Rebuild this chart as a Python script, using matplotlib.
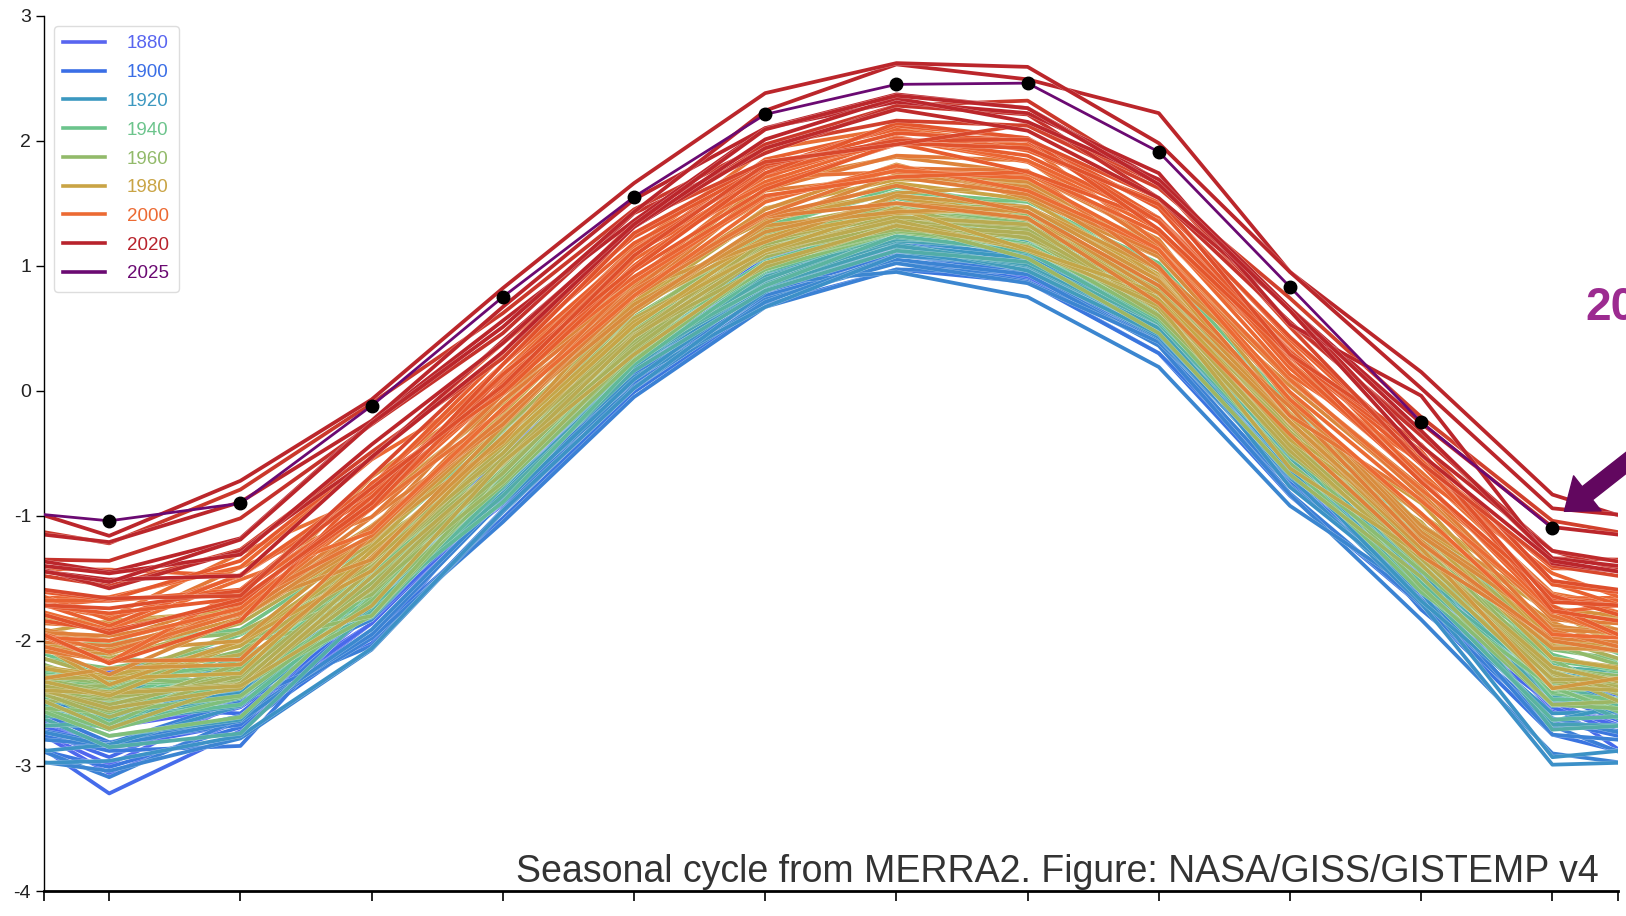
import numpy as np
import matplotlib
matplotlib.use("Agg")
import matplotlib.pyplot as plt
import matplotlib.patheffects as pe
from matplotlib.colors import LinearSegmentedColormap
from matplotlib.lines import Line2D
from matplotlib.transforms import offset_copy

plt.rcParams['font.family'] = ['Liberation Sans', 'DejaVu Sans']
plt.rcParams['axes.unicode_minus'] = False

months = list(range(1, 13))

# seasonal cycle (MERRA2)
clim = [-2.40, -2.16, -1.46, -0.49, 0.49, 1.16, 1.42, 1.30, 0.75, -0.37, -1.27, -2.20]

# monthly anomalies, one row per year (Jan..Dec)
anom_1880s = [
    [-0.20, -0.25, -0.09, -0.16, -0.10, -0.21, -0.18, -0.10, -0.15, -0.23, -0.22, -0.18],
    [-0.20, -0.14, 0.03, 0.05, 0.06, -0.19, 0.00, -0.04, -0.16, -0.22, -0.18, -0.07],
    [0.16, 0.14, 0.04, -0.16, -0.14, -0.22, -0.16, -0.08, -0.15, -0.23, -0.17, -0.36],
    [-0.29, -0.37, -0.12, -0.18, -0.18, -0.07, -0.07, -0.14, -0.22, -0.11, -0.24, -0.11],
    [-0.13, -0.08, -0.37, -0.40, -0.34, -0.35, -0.31, -0.28, -0.27, -0.25, -0.33, -0.31],
    [-0.59, -0.33, -0.26, -0.42, -0.45, -0.43, -0.34, -0.32, -0.29, -0.24, -0.24, -0.10],
    [-0.43, -0.50, -0.40, -0.28, -0.26, -0.35, -0.18, -0.30, -0.24, -0.28, -0.28, -0.25],
    [-0.66, -0.48, -0.32, -0.35, -0.31, -0.25, -0.25, -0.35, -0.26, -0.35, -0.26, -0.33],
    [-0.43, -0.37, -0.40, -0.29, -0.23, -0.18, -0.10, -0.12, -0.08, 0.01, -0.04, -0.12],
    [-0.09, 0.16, 0.05, 0.09, 0.00, -0.12, -0.09, -0.19, -0.23, -0.26, -0.33, -0.30],
]
anom_1890s = [
    [-0.44, -0.44, -0.40, -0.33, -0.48, -0.28, -0.30, -0.40, -0.38, -0.25, -0.45, -0.31],
    [-0.46, -0.50, -0.19, -0.25, -0.16, -0.23, -0.20, -0.19, -0.14, -0.20, -0.37, -0.05],
    [-0.27, -0.14, -0.37, -0.35, -0.26, -0.21, -0.29, -0.25, -0.17, -0.10, -0.44, -0.31],
    [-0.82, -0.56, -0.25, -0.30, -0.31, -0.24, -0.17, -0.27, -0.20, -0.18, -0.20, -0.33],
    [-0.53, -0.33, -0.24, -0.41, -0.27, -0.38, -0.27, -0.23, -0.21, -0.18, -0.26, -0.23],
    [-0.44, -0.45, -0.31, -0.21, -0.22, -0.22, -0.17, -0.11, -0.08, -0.08, -0.16, -0.13],
    [-0.14, -0.09, -0.26, -0.30, -0.15, -0.07, 0.02, -0.05, -0.05, 0.07, -0.14, -0.10],
    [-0.14, -0.16, -0.14, -0.03, -0.03, -0.10, -0.06, -0.09, -0.07, -0.09, -0.20, -0.28],
    [-0.05, -0.35, -0.56, -0.32, -0.33, -0.20, -0.19, -0.22, -0.19, -0.29, -0.37, -0.24],
    [-0.14, -0.42, -0.28, -0.11, -0.19, -0.22, -0.09, -0.03, -0.04, 0.06, 0.08, -0.26],
]
anom_1900s = [
    [-0.30, -0.01, 0.01, -0.11, -0.08, -0.08, -0.10, -0.07, -0.03, -0.01, -0.07, -0.07],
    [-0.14, -0.06, 0.01, -0.03, -0.12, -0.11, -0.12, -0.15, -0.19, -0.24, -0.29, -0.30],
    [-0.13, -0.03, -0.22, -0.25, -0.31, -0.32, -0.22, -0.28, -0.30, -0.28, -0.40, -0.50],
    [-0.24, 0.02, -0.18, -0.36, -0.35, -0.41, -0.31, -0.42, -0.45, -0.47, -0.45, -0.55],
    [-0.61, -0.53, -0.49, -0.53, -0.50, -0.47, -0.45, -0.43, -0.45, -0.36, -0.26, -0.44],
    [-0.48, -0.68, -0.23, -0.31, -0.32, -0.22, -0.25, -0.16, -0.20, -0.21, -0.07, -0.18],
    [-0.25, -0.35, -0.20, -0.11, -0.22, -0.17, -0.20, -0.18, -0.27, -0.24, -0.40, -0.16],
    [-0.41, -0.51, -0.29, -0.39, -0.43, -0.38, -0.32, -0.36, -0.32, -0.18, -0.48, -0.42],
    [-0.42, -0.32, -0.58, -0.46, -0.40, -0.40, -0.37, -0.43, -0.33, -0.45, -0.44, -0.48],
    [-0.69, -0.46, -0.52, -0.56, -0.54, -0.49, -0.45, -0.35, -0.38, -0.39, -0.30, -0.55],
]
anom_1910s = [
    [-0.43, -0.44, -0.49, -0.39, -0.36, -0.40, -0.37, -0.37, -0.39, -0.46, -0.56, -0.70],
    [-0.64, -0.62, -0.61, -0.48, -0.47, -0.43, -0.40, -0.44, -0.36, -0.24, -0.21, -0.24],
    [-0.28, -0.16, -0.37, -0.24, -0.26, -0.30, -0.47, -0.55, -0.56, -0.55, -0.35, -0.42],
    [-0.44, -0.48, -0.45, -0.37, -0.46, -0.45, -0.34, -0.30, -0.33, -0.33, -0.15, -0.04],
    [0.04, -0.13, -0.23, -0.26, -0.22, -0.26, -0.22, -0.15, -0.20, -0.01, -0.19, -0.13],
    [-0.21, -0.07, -0.21, -0.05, -0.07, -0.14, -0.05, -0.18, -0.17, -0.22, -0.11, -0.07],
    [-0.13, -0.14, -0.28, -0.29, -0.38, -0.49, -0.34, -0.28, -0.32, -0.32, -0.43, -0.79],
    [-0.56, -0.60, -0.60, -0.47, -0.47, -0.37, -0.17, -0.19, -0.21, -0.40, -0.34, -0.73],
    [-0.43, -0.36, -0.15, -0.41, -0.40, -0.32, -0.21, -0.23, -0.14, 0.01, -0.11, -0.26],
    [-0.22, -0.24, -0.20, -0.16, -0.28, -0.34, -0.30, -0.33, -0.23, -0.23, -0.41, -0.38],
]
anom_1920s = [
    [-0.15, -0.26, -0.07, -0.23, -0.24, -0.33, -0.26, -0.24, -0.20, -0.24, -0.30, -0.44],
    [-0.01, -0.17, -0.25, -0.25, -0.28, -0.24, -0.14, -0.22, -0.15, -0.07, -0.18, -0.15],
    [-0.36, -0.47, -0.17, -0.23, -0.30, -0.26, -0.24, -0.34, -0.30, -0.28, -0.14, -0.20],
    [-0.25, -0.36, -0.27, -0.33, -0.30, -0.21, -0.27, -0.30, -0.26, -0.11, -0.02, -0.02],
    [-0.20, -0.29, -0.04, -0.29, -0.20, -0.32, -0.26, -0.29, -0.25, -0.31, -0.16, -0.47],
    [-0.28, -0.30, -0.20, -0.17, -0.24, -0.30, -0.22, -0.16, -0.17, -0.17, 0.06, -0.05],
    [0.05, -0.06, 0.06, -0.17, -0.21, -0.25, -0.21, -0.08, -0.14, -0.07, -0.06, -0.24],
    [-0.21, -0.14, -0.33, -0.26, -0.26, -0.31, -0.16, -0.20, -0.13, -0.04, -0.04, -0.32],
    [0.00, -0.12, -0.34, -0.27, -0.21, -0.27, -0.15, -0.17, -0.18, -0.16, -0.15, -0.19],
    [-0.45, -0.58, -0.28, -0.35, -0.33, -0.36, -0.30, -0.27, -0.21, -0.17, -0.11, -0.51],
]
anom_1930s = [
    [-0.25, -0.19, -0.05, -0.18, -0.19, -0.12, -0.13, -0.10, -0.14, -0.15, 0.05, -0.06],
    [-0.05, -0.18, -0.04, -0.15, -0.13, -0.04, -0.02, -0.03, -0.06, -0.01, -0.05, -0.01],
    [0.12, -0.21, -0.18, -0.06, -0.11, -0.17, -0.19, -0.18, -0.07, -0.05, -0.25, -0.14],
    [-0.27, -0.29, -0.31, -0.17, -0.21, -0.32, -0.18, -0.19, -0.21, -0.21, -0.31, -0.43],
    [-0.18, -0.05, -0.35, -0.28, -0.04, -0.05, -0.04, -0.04, -0.13, -0.09, 0.04, -0.04],
    [-0.31, 0.02, -0.26, -0.40, -0.28, -0.21, -0.15, -0.13, -0.19, -0.12, -0.27, -0.20],
    [-0.23, -0.35, -0.22, -0.15, -0.18, -0.20, -0.06, -0.13, -0.08, -0.05, -0.04, 0.02],
    [-0.12, 0.04, -0.23, -0.11, -0.04, -0.05, -0.03, 0.04, 0.07, 0.07, 0.06, -0.15],
    [0.11, 0.06, 0.06, 0.07, -0.11, -0.13, -0.07, -0.04, 0.04, 0.12, 0.08, -0.27],
    [-0.06, -0.07, -0.17, -0.09, -0.09, -0.07, -0.06, -0.07, -0.08, -0.03, 0.08, 0.32],
]
anom_1940s = [
    [-0.09, 0.08, -0.03, 0.07, 0.04, 0.07, 0.08, 0.02, 0.10, 0.06, 0.13, 0.30],
    [0.10, 0.21, 0.04, 0.16, 0.18, 0.13, 0.21, 0.17, 0.02, 0.34, 0.19, 0.18],
    [0.27, -0.07, 0.02, 0.08, 0.09, 0.05, 0.01, -0.04, 0.00, 0.05, 0.08, 0.09],
    [0.01, 0.14, -0.08, 0.10, -0.01, -0.07, 0.12, 0.00, 0.07, 0.26, 0.19, 0.31],
    [0.39, 0.25, 0.23, 0.17, 0.14, 0.16, 0.17, 0.21, 0.27, 0.24, 0.10, 0.04],
    [0.10, -0.04, 0.06, 0.18, 0.04, -0.04, 0.05, 0.23, 0.18, 0.18, 0.03, -0.10],
    [0.07, -0.01, 0.03, 0.07, -0.15, -0.19, -0.07, -0.13, -0.01, -0.02, -0.03, -0.22],
    [-0.12, -0.19, 0.02, 0.03, -0.07, -0.02, -0.04, -0.06, -0.10, 0.08, 0.01, -0.10],
    [0.06, -0.16, -0.24, -0.07, 0.00, -0.05, -0.10, -0.08, -0.11, -0.09, -0.06, -0.21],
    [0.08, -0.15, 0.01, -0.09, -0.07, -0.19, -0.10, -0.08, -0.10, -0.08, -0.11, -0.18],
]
anom_1950s = [
    [-0.31, -0.29, -0.14, -0.22, -0.13, -0.05, -0.11, -0.16, -0.14, -0.22, -0.34, -0.17],
    [-0.36, -0.45, -0.19, -0.09, 0.02, -0.02, 0.03, 0.08, 0.06, 0.09, -0.07, 0.13],
    [0.18, 0.13, -0.09, 0.02, -0.04, -0.05, 0.04, 0.05, 0.06, -0.05, -0.14, -0.03],
    [0.07, 0.14, 0.11, 0.18, 0.10, 0.07, 0.03, 0.04, 0.05, 0.06, -0.05, 0.05],
    [-0.27, -0.03, -0.13, -0.14, -0.16, -0.19, -0.15, -0.15, -0.10, -0.05, 0.04, -0.18],
    [0.11, -0.20, -0.34, -0.21, -0.21, -0.14, -0.15, -0.05, -0.14, -0.07, -0.30, -0.31],
    [-0.17, -0.28, -0.22, -0.26, -0.25, -0.14, -0.14, -0.14, -0.17, -0.21, -0.17, -0.09],
    [-0.12, -0.05, -0.08, 0.01, 0.07, 0.13, 0.03, 0.11, 0.07, 0.02, 0.07, 0.16],
    [0.38, 0.22, 0.09, 0.01, 0.04, -0.07, 0.04, -0.04, -0.04, 0.02, 0.02, -0.02],
    [0.06, 0.08, 0.17, 0.08, -0.01, 0.03, 0.03, 0.01, -0.07, -0.09, -0.08, -0.01],
]
anom_1960s = [
    [-0.02, 0.14, -0.34, -0.15, -0.10, -0.03, -0.04, 0.01, 0.06, -0.02, -0.09, 0.17],
    [0.05, 0.16, 0.09, 0.11, 0.08, 0.10, 0.01, 0.01, 0.05, 0.01, 0.06, -0.18],
    [0.04, 0.15, 0.05, 0.02, -0.05, 0.03, 0.02, -0.02, 0.00, -0.02, 0.05, -0.01],
    [-0.01, 0.16, -0.17, -0.06, -0.06, 0.06, 0.06, 0.17, 0.16, 0.09, 0.11, -0.13],
    [-0.07, -0.11, -0.13, -0.24, -0.18, -0.01, -0.08, -0.24, -0.29, -0.30, -0.22, -0.31],
    [-0.06, -0.15, -0.08, -0.17, -0.10, -0.05, -0.13, -0.07, -0.15, -0.09, -0.06, -0.07],
    [-0.16, -0.02, 0.06, -0.10, -0.13, 0.01, 0.04, -0.06, -0.04, -0.14, -0.04, -0.06],
    [-0.05, -0.18, 0.03, -0.01, 0.09, -0.09, -0.04, -0.01, -0.08, 0.07, -0.03, -0.04],
    [-0.21, -0.11, 0.24, -0.06, -0.15, -0.06, -0.10, -0.06, -0.10, 0.04, -0.04, -0.10],
    [-0.11, -0.12, 0.02, 0.18, 0.17, 0.05, -0.03, 0.02, 0.09, 0.10, 0.11, 0.22],
]
anom_1970s = [
    [0.10, 0.23, 0.05, 0.04, -0.02, -0.02, -0.05, -0.08, 0.07, 0.04, 0.04, -0.12],
    [-0.01, -0.19, -0.12, -0.05, -0.04, -0.17, -0.09, -0.04, -0.06, -0.04, -0.06, -0.06],
    [-0.30, -0.18, 0.03, 0.04, -0.05, 0.04, 0.01, 0.14, -0.02, 0.10, 0.04, 0.17],
    [0.26, 0.30, 0.24, 0.28, 0.21, 0.14, 0.08, 0.07, 0.05, 0.09, -0.01, -0.05],
    [-0.14, -0.22, -0.03, -0.09, -0.06, -0.06, -0.03, 0.03, -0.10, -0.11, -0.07, -0.11],
    [0.11, 0.05, 0.10, -0.01, 0.09, -0.04, -0.06, -0.18, -0.04, -0.07, -0.12, -0.17],
    [-0.02, -0.20, -0.26, -0.08, -0.20, -0.14, -0.10, -0.15, -0.07, -0.25, -0.04, -0.01],
    [-0.04, 0.14, 0.21, 0.24, 0.20, 0.25, 0.15, 0.08, -0.02, 0.01, 0.22, 0.06],
    [0.12, 0.12, 0.17, 0.11, 0.06, -0.04, 0.04, -0.17, 0.03, -0.02, 0.15, 0.06],
    [0.10, -0.10, 0.18, 0.06, 0.03, 0.07, 0.00, 0.16, 0.18, 0.19, 0.28, 0.48],
]
anom_1980s = [
    [0.29, 0.43, 0.26, 0.31, 0.36, 0.20, 0.24, 0.23, 0.16, 0.14, 0.28, 0.18],
    [0.56, 0.40, 0.55, 0.39, 0.22, 0.30, 0.27, 0.36, 0.15, 0.11, 0.20, 0.45],
    [0.05, 0.16, 0.02, 0.12, 0.17, 0.06, 0.13, 0.07, 0.14, 0.16, 0.17, 0.42],
    [0.53, 0.42, 0.38, 0.23, 0.36, 0.20, 0.16, 0.34, 0.41, 0.18, 0.37, 0.20],
    [0.32, 0.16, 0.30, 0.08, 0.32, 0.03, 0.14, 0.17, 0.22, 0.11, 0.01, -0.18],
    [0.18, -0.03, 0.13, 0.12, 0.14, 0.16, 0.01, 0.17, 0.13, 0.12, 0.05, 0.15],
    [0.30, 0.34, 0.27, 0.25, 0.20, 0.11, 0.08, 0.13, 0.03, 0.12, 0.07, 0.14],
    [0.33, 0.43, 0.11, 0.21, 0.27, 0.29, 0.39, 0.24, 0.32, 0.30, 0.19, 0.46],
    [0.54, 0.38, 0.52, 0.41, 0.42, 0.38, 0.34, 0.37, 0.36, 0.35, 0.14, 0.35],
    [0.13, 0.34, 0.31, 0.28, 0.16, 0.18, 0.31, 0.33, 0.32, 0.30, 0.11, 0.32],
]
anom_1990s = [
    [0.40, 0.41, 0.77, 0.53, 0.42, 0.37, 0.37, 0.29, 0.22, 0.41, 0.45, 0.38],
    [0.40, 0.50, 0.35, 0.51, 0.35, 0.51, 0.45, 0.44, 0.46, 0.27, 0.27, 0.29],
    [0.44, 0.37, 0.45, 0.22, 0.30, 0.23, 0.08, 0.08, -0.05, 0.02, -0.05, 0.22],
    [0.36, 0.37, 0.37, 0.27, 0.26, 0.24, 0.22, 0.13, 0.09, 0.24, 0.05, 0.20],
    [0.24, 0.01, 0.31, 0.41, 0.27, 0.44, 0.29, 0.27, 0.35, 0.45, 0.50, 0.37],
    [0.51, 0.75, 0.45, 0.46, 0.32, 0.45, 0.46, 0.54, 0.40, 0.48, 0.43, 0.28],
    [0.23, 0.45, 0.30, 0.35, 0.31, 0.25, 0.36, 0.46, 0.24, 0.17, 0.40, 0.40],
    [0.31, 0.38, 0.52, 0.33, 0.39, 0.55, 0.33, 0.43, 0.51, 0.60, 0.62, 0.58],
    [0.59, 0.86, 0.62, 0.64, 0.66, 0.77, 0.68, 0.66, 0.43, 0.46, 0.48, 0.57],
    [0.49, 0.65, 0.33, 0.35, 0.27, 0.35, 0.38, 0.30, 0.38, 0.36, 0.39, 0.44],
]
anom_2000s = [
    [0.23, 0.57, 0.56, 0.55, 0.38, 0.39, 0.34, 0.40, 0.38, 0.30, 0.29, 0.25],
    [0.40, 0.42, 0.54, 0.51, 0.56, 0.51, 0.59, 0.53, 0.54, 0.50, 0.70, 0.54],
    [0.75, 0.75, 0.91, 0.57, 0.61, 0.55, 0.61, 0.54, 0.62, 0.55, 0.57, 0.43],
    [0.73, 0.55, 0.57, 0.55, 0.62, 0.48, 0.55, 0.67, 0.63, 0.74, 0.58, 0.74],
    [0.57, 0.68, 0.64, 0.63, 0.42, 0.40, 0.29, 0.45, 0.51, 0.64, 0.72, 0.52],
    [0.72, 0.57, 0.70, 0.70, 0.63, 0.69, 0.67, 0.62, 0.76, 0.78, 0.72, 0.66],
    [0.52, 0.69, 0.61, 0.50, 0.51, 0.62, 0.55, 0.72, 0.63, 0.69, 0.72, 0.78],
    [0.97, 0.68, 0.70, 0.77, 0.69, 0.58, 0.60, 0.58, 0.63, 0.59, 0.55, 0.48],
    [0.22, 0.32, 0.72, 0.47, 0.47, 0.45, 0.56, 0.45, 0.61, 0.69, 0.68, 0.54],
    [0.62, 0.50, 0.52, 0.61, 0.63, 0.62, 0.70, 0.72, 0.71, 0.65, 0.76, 0.65],
]
anom_2010s = [
    [0.73, 0.80, 0.93, 0.87, 0.74, 0.63, 0.64, 0.70, 0.60, 0.68, 0.79, 0.44],
    [0.48, 0.46, 0.61, 0.62, 0.49, 0.58, 0.72, 0.72, 0.54, 0.66, 0.54, 0.56],
    [0.46, 0.49, 0.56, 0.70, 0.77, 0.67, 0.56, 0.64, 0.74, 0.80, 0.77, 0.51],
    [0.66, 0.56, 0.68, 0.53, 0.59, 0.65, 0.58, 0.71, 0.79, 0.66, 0.84, 0.68],
    [0.74, 0.52, 0.78, 0.80, 0.86, 0.67, 0.55, 0.83, 0.91, 0.88, 0.69, 0.80],
    [0.84, 0.89, 0.97, 0.75, 0.82, 0.80, 0.74, 0.82, 0.87, 1.11, 1.06, 1.16],
    [1.18, 1.37, 1.36, 1.11, 0.96, 0.81, 0.86, 1.02, 0.92, 0.91, 0.93, 0.86],
    [1.04, 1.14, 1.19, 0.95, 0.93, 0.74, 0.86, 0.91, 0.79, 0.92, 0.91, 0.92],
    [0.82, 0.88, 0.92, 0.89, 0.82, 0.78, 0.83, 0.78, 0.79, 1.03, 0.83, 0.92],
    [0.95, 0.98, 1.21, 1.05, 0.87, 0.94, 0.95, 0.96, 0.93, 1.03, 1.01, 1.11],
]
anom_2020s = [
    [1.19, 1.27, 1.22, 1.16, 1.04, 0.94, 0.89, 0.92, 0.99, 0.90, 1.23, 0.82],
    [0.89, 0.68, 0.93, 0.80, 0.82, 0.85, 0.92, 0.85, 0.94, 1.03, 0.95, 0.86],
    [0.94, 0.85, 1.03, 0.87, 0.84, 0.93, 0.94, 0.96, 0.90, 1.01, 0.76, 0.84],
    [0.87, 0.97, 1.20, 1.00, 0.94, 1.08, 1.19, 1.19, 1.47, 1.32, 1.42, 1.37],
    [1.24, 1.44, 1.39, 1.31, 1.17, 1.22, 1.20, 1.29, 1.23, 1.32, 1.29, 1.26],
    [1.36, 1.26, 1.34, 1.24, 1.06, 1.05, 1.03, 1.16, 1.16, 1.20, 1.02, 1.10],
]

first_year = 1880
legend_years = [1880, 1900, 1920, 1940, 1960, 1980, 2000, 2020]
legend_colors = ['#5865f0', '#3a6ee6', '#3c98c0', '#6cc48c', '#92ba6a',
                 '#c9a445', '#ec6a33', '#b8232c']
color_2025 = '#6b0a72'
footer = 'Seasonal cycle from MERRA2. Figure: NASA/GISS/GISTEMP v4'

# colour ramp by year (orange holds through the 2000s, red only near 2020)
ramp_years = [1880, 1900, 1920, 1940, 1960, 1980, 2000, 2012, 2019]
ramp_colors = ['#5865f0', '#3a6ee6', '#3c98c0', '#6cc48c', '#92ba6a',
               '#c9a445', '#ec6a33', '#e4552c', '#bb262b']

anom = np.array(anom_1880s + anom_1890s + anom_1900s + anom_1910s + anom_1920s
                + anom_1930s + anom_1940s + anom_1950s + anom_1960s
                + anom_1970s + anom_1980s + anom_1990s + anom_2000s
                + anom_2010s + anom_2020s)
vals = np.array(clim) + anom
years = first_year + np.arange(len(vals))

span = ramp_years[-1] - ramp_years[0]
stops = [(y - ramp_years[0]) / span for y in ramp_years]
cmap = LinearSegmentedColormap.from_list('yrs', list(zip(stops, ramp_colors)))

W, H = 1626, 916
fig = plt.figure(figsize=(W / 100, H / 100), dpi=100)
ax = fig.add_axes([43.6 / W, 25 / H, (1618 - 43.6) / W, (891 - 15.6) / H])

halo = [pe.Stroke(linewidth=3.2, foreground='white', alpha=0.5), pe.Normal()]
for i, yr in enumerate(years[:-1]):
    x = list(months)
    y = list(vals[i])
    if i > 0:
        x = [0] + x
        y = [vals[i - 1][11]] + y
    x.append(13)
    y.append(vals[i + 1][0])
    c = cmap(min((yr - ramp_years[0]) / span, 1.0))
    ax.plot(x, y, color=c, lw=2.7, path_effects=halo, zorder=2)

# 2025
x25 = [0] + months
y25 = [vals[-2][11]] + list(vals[-1])
ax.plot(x25, y25, color=color_2025, lw=2.0, zorder=5)
ax.plot(months, vals[-1], 'o', color='black', ms=9, zorder=6)

ax.set_xlim(0.5, 12.5)
ax.set_ylim(-4, 3)
ax.set_xticks([0.5] + months + [12.5])
ax.set_xticklabels([])
ax.set_yticks(range(-4, 4))
ax.tick_params(axis='y', direction='out', length=6, width=1, labelsize=14,
               pad=3, labelcolor='#222222')
ax.tick_params(axis='x', direction='out', length=7, width=1.2)
for s in ['top', 'right']:
    ax.spines[s].set_visible(False)
ax.spines['left'].set_linewidth(1.0)
ax.spines['bottom'].set_linewidth(2.0)

handles = [Line2D([], [], color=c, lw=2.6) for c in legend_colors]
handles.append(Line2D([], [], color=color_2025, lw=2.6))
labels = [str(y) for y in legend_years] + ['2025']
leg = ax.legend(handles, labels, loc='upper left',
                bbox_to_anchor=(54 / W, 1 - 26 / H), bbox_transform=fig.transFigure,
                borderaxespad=0, fontsize=13.5, labelcolor='linecolor',
                handlelength=2.2, handletextpad=1.2, labelspacing=0.62,
                borderpad=0.5, fancybox=True, framealpha=1, edgecolor='#dddddd')
leg.get_frame().set_linewidth(1.0)

fig.text(1599 / W, 34 / H, footer, ha='right', va='baseline', fontsize=27,
         color='#333333')

# arrow pointing at Dec 2025 and the (cut-off) year label
tip = offset_copy(ax.transData, fig=fig, x=12, y=17, units='dots')
ax.annotate('', xy=(12, vals[-1][11]), xycoords=tip, xytext=(84, 66),
            textcoords='offset pixels', annotation_clip=False,
            arrowprops=dict(arrowstyle='simple,head_length=1.05,head_width=1.6,tail_width=0.6',
                            mutation_scale=20, color='#62075f', shrinkA=0, shrinkB=0))
fig.text(1585 / W, 1 - 320 / H, '2025', fontsize=33, fontweight='bold',
         color='#9c2b90', va='baseline')

fig.savefig('out.png', dpi=100)
